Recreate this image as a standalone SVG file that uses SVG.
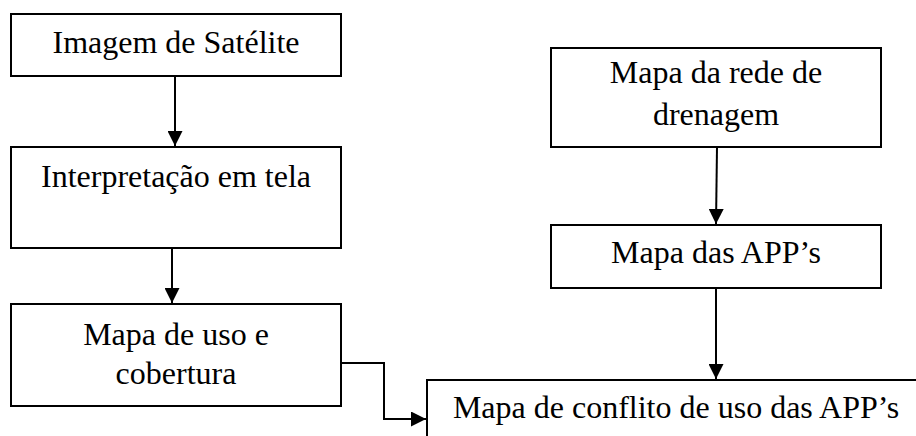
<svg xmlns="http://www.w3.org/2000/svg" width="916" height="436" viewBox="0 0 916 436">
<defs>
<style>
.box{fill:#fff;stroke:#000;stroke-width:2}
.t{font-family:"Liberation Serif","Times New Roman",serif;font-size:32px;fill:#000;text-anchor:middle}
.c{fill:none;stroke:#000;stroke-width:2}
</style>
<marker id="ah" viewBox="0 0 10 10" refX="10" refY="5" markerWidth="7.5" markerHeight="7.5" markerUnits="userSpaceOnUse" orient="auto">
<path d="M0,0 L10,5 L0,10 Z" fill="#000"/>
</marker>
<marker id="a" viewBox="0 0 10 10" refX="10" refY="5" markerWidth="15" markerHeight="15" markerUnits="userSpaceOnUse" orient="auto">
<path d="M0,0 L10,5 L0,10 Z" fill="#000"/>
</marker>
</defs>
<rect width="916" height="436" fill="#fff"/>
<g id="n1">
<rect class="box" x="11" y="14" width="330" height="62"/>
<text class="t" x="176" y="53">Imagem de Satélite</text>
</g>
<g id="n2">
<rect class="box" x="11" y="147" width="330" height="101"/>
<text class="t" x="176" y="187">Interpretação em tela</text>
</g>
<g id="n3">
<rect class="box" x="11" y="304" width="330" height="102"/>
<text class="t" x="176" y="345">Mapa de uso e</text>
<text class="t" x="176" y="384">cobertura</text>
</g>
<g id="n4">
<rect class="box" x="551" y="48" width="330" height="99"/>
<text class="t" x="716" y="83">Mapa da rede de</text>
<text class="t" x="716" y="125">drenagem</text>
</g>
<g id="n5">
<rect class="box" x="551" y="225" width="330" height="63"/>
<text class="t" x="716" y="263">Mapa das APP’s</text>
</g>
<g id="n6">
<rect class="box" x="427" y="380" width="500" height="70"/>
<text class="t" x="676" y="418">Mapa de conflito de uso das APP’s</text>
</g>
<g id="connectors">
<path class="c" d="M175,76 V146" marker-end="url(#a)"/>
<path class="c" d="M172,248 V303" marker-end="url(#a)"/>
<path class="c" d="M341,363 H384 V419 H426" marker-end="url(#a)"/>
<path class="c" d="M717,147 L716,224" marker-end="url(#a)"/>
<path class="c" d="M716,288 V379" marker-end="url(#a)"/>
</g>
</svg>
